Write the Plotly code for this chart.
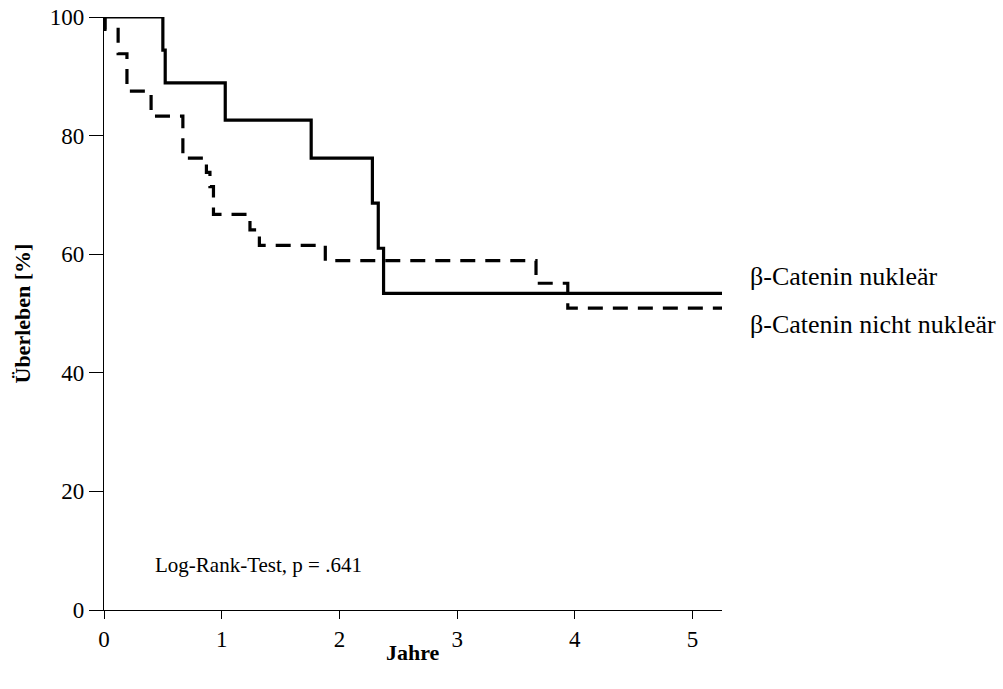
import plotly.graph_objects as go

# Kaplan-Meier data
t_nuk = [0, 0.50, 0.52, 1.03, 1.76, 2.28, 2.33, 2.375, 5.25]
s_nuk = [100, 94.4, 88.9, 82.6, 76.2, 68.6, 61.0, 53.4, 53.4]

t_nicht = [0, 0.01, 0.12, 0.195, 0.40, 0.67, 0.87, 0.90, 0.93, 1.24, 1.32, 1.88, 3.67, 3.94, 5.25]
s_nicht = [100, 97.9, 93.8, 87.5, 83.3, 76.2, 73.8, 71.4, 66.7, 64.1, 61.5, 58.9, 55.1, 50.9, 50.9]

x_ticks = [0, 1, 2, 3, 4, 5]
y_ticks = [0, 20, 40, 60, 80, 100]
labels = ["β-Catenin nukleär", "β-Catenin nicht nukleär"]
label_y = [56.2, 48.2]
stat_text = "Log-Rank-Test, p = .641"
x_title = "Jahre"
y_title = "Überleben [%]"

FONT = "Liberation Serif"

fig = go.Figure()
fig.add_trace(go.Scatter(x=t_nicht, y=s_nicht, mode="lines", line_shape="hv",
                         line=dict(color="black", width=3.2, dash="15px,10px"),
                         name=labels[1], showlegend=False))
fig.add_trace(go.Scatter(x=t_nuk, y=s_nuk, mode="lines", line_shape="hv",
                         line=dict(color="black", width=3.2),
                         name=labels[0], showlegend=False))

for lab, yv in zip(labels, label_y):
    fig.add_annotation(x=1.042, xref="paper", y=yv, yref="y", text=lab,
                       showarrow=False, xanchor="left", yanchor="middle",
                       font=dict(family=FONT, size=26, color="black"))

fig.add_annotation(x=0.415, y=7.6, xref="x", yref="y", text=stat_text,
                   showarrow=False, xanchor="left", yanchor="middle",
                   font=dict(family=FONT, size=21, color="black"))

# axis titles placed as annotations for exact positioning
fig.add_annotation(x=0.5, xref="paper", y=0, yref="y", yshift=-42,
                   text="<b>" + x_title + "</b>", showarrow=False,
                   xanchor="center", yanchor="middle",
                   font=dict(family=FONT, size=22, color="black"))
fig.add_annotation(x=0, xref="paper", xshift=-82, y=0.5, yref="paper",
                   text="<b>" + y_title + "</b>", showarrow=False, textangle=-90,
                   xanchor="center", yanchor="middle",
                   font=dict(family=FONT, size=22, color="black"))

fig.update_layout(
    width=1003, height=689,
    margin=dict(l=104, r=281, t=17, b=79),
    paper_bgcolor="white", plot_bgcolor="white",
    font=dict(family=FONT, size=22, color="black"),
    xaxis=dict(range=[0, 5.25], tickvals=x_ticks, ticks="outside", ticklen=8,
               tickwidth=1.2, tickcolor="black", showline=True, linecolor="black",
               linewidth=1.2, showgrid=False, zeroline=False, automargin=False,
               ticklabeloverflow="allow",
               tickfont=dict(family=FONT, size=23)),
    yaxis=dict(range=[0, 100], tickvals=y_ticks, ticks="outside", ticklen=14,
               tickwidth=1.2, tickcolor="black", showline=True, linecolor="black",
               linewidth=1.2, showgrid=False, zeroline=False, automargin=False,
               ticklabeloverflow="allow",
               tickfont=dict(family=FONT, size=23)),
)

# remove the browser's default 8px body margin so the figure fills the window
fig.write_html("out.html",
               config={"displayModeBar": False},
               post_script="document.body.style.margin='0';document.body.style.overflow='hidden';")
